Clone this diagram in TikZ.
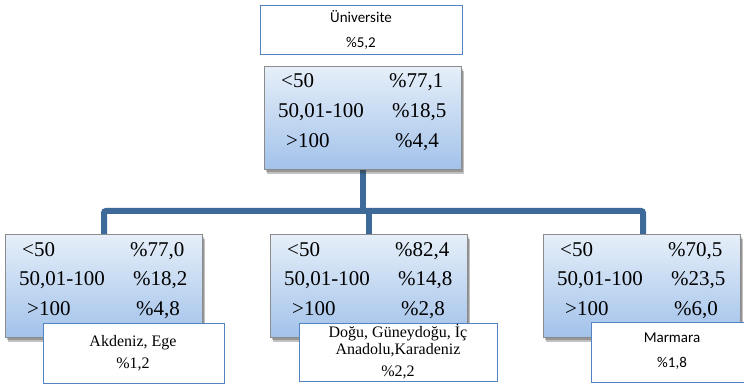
\documentclass[tikz,border=0pt]{standalone}
\usepackage{fontspec}
\setmainfont{Liberation Serif}
\newfontfamily\calfont{Carlito}
\usetikzlibrary{shadows}
\definecolor{lineblue}{HTML}{3D6A98}
\definecolor{boxtop}{HTML}{E6EFF9}
\definecolor{boxbot}{HTML}{A2C2EA}
\definecolor{wbord}{HTML}{5383C0}
\tikzset{
  databox/.style={draw=black!45, line width=0.9pt, top color=boxtop, bottom color=boxbot,
    double copy shadow={shadow xshift=1.5pt, shadow yshift=-2.5pt, opacity=0.3, fill=black!80, draw=none},
    anchor=north west, inner sep=0pt, minimum width=197pt, minimum height=103pt},
  whitebox/.style={draw=wbord, line width=1.4pt, fill=white, anchor=north west, inner sep=0pt},
  datatxt/.style={anchor=base west, inner sep=0pt, font=\rmfamily\fontsize{21}{23}\selectfont},
  conn/.style={draw=lineblue, line width=6pt, rounded corners=2pt},
  smalltxt/.style={inner sep=0pt, font=\rmfamily\fontsize{16}{17}\selectfont, align=center},
  sanstxt/.style={inner sep=0pt, font=\calfont\fontsize{15}{17}\selectfont}
}
\newcommand\mydatabox[6]{%
  \node[databox] (#1) at (#2,#3) {};
  \node[datatxt] (#1-a1) at (#2+17,#3+22) {<50};
  \node[datatxt] (#1-b1) at (#2+125,#3+22) {\%#4};
  \node[datatxt] (#1-a2) at (#2+14,#3+51.5) {50,01-100};
  \node[datatxt] (#1-b2) at (#2+128,#3+51.5) {\%#5};
  \node[datatxt] (#1-a3) at (#2+22,#3+81.5) {>100};
  \node[datatxt] (#1-b3) at (#2+131,#3+81.5) {\%#6};
}
\begin{document}
\begin{tikzpicture}[x=1pt,y=-1pt]
\useasboundingbox (0,0) rectangle (744,390);
\fill[white] (0,0) rectangle (744,390);
% junction coordinates
\coordinate (jt) at (363,211);
\coordinate (jm) at (369,211);
\coordinate (jl) at (104,211);
\coordinate (jr) at (643,211);
% connectors (drawn first, boxes cover the ends)
\draw[conn] (363,170) -- (jt);
\draw[conn] (104,236) |- (jr) -- (643,236);
\draw[conn] (jm) -- (369,236);
% data boxes
\mydatabox{main}{264}{66}{77,1}{18,5}{4,4}
\mydatabox{lbox}{5}{234}{77,0}{18,2}{4,8}
\mydatabox{mbox}{270}{234}{82,4}{14,8}{2,8}
\mydatabox{rbox}{543}{234}{70,5}{23,5}{6,0}
% top white box
\node[whitebox, minimum width=202pt, minimum height=49pt] (uni) at (260,5) {};
\node[sanstxt] (uni-t) at (361,17) {Üniversite};
\node[sanstxt] (uni-p) at (361,43) {\%5,2};
% lower white boxes
\node[whitebox, minimum width=181pt, minimum height=60pt] (akd) at (43,323) {};
\node[smalltxt] (akd-t) at (133,343) {Akdeniz, Ege};
\node[smalltxt] (akd-p) at (133,364) {\%1,2};
\node[whitebox, minimum width=198pt, minimum height=58pt] (dog) at (299,323) {};
\node[smalltxt] (dog-t1) at (398,333) {Doğu, Güneydoğu, İç};
\node[smalltxt] (dog-t2) at (398,350) {Anadolu,Karadeniz};
\node[smalltxt] (dog-p) at (398,372) {\%2,2};
\node[whitebox, minimum width=160pt, minimum height=60pt] (mar) at (591,322) {};
\node[sanstxt] (mar-t) at (672,338) {Marmara};
\node[sanstxt] (mar-p) at (672,363) {\%1,8};
\end{tikzpicture}
\end{document}
